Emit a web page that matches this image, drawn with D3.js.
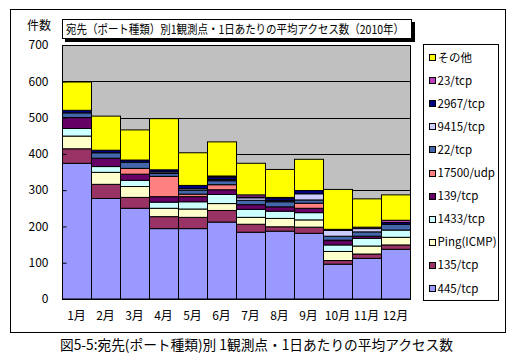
<!DOCTYPE html>
<html><head><meta charset="utf-8">
<script src="https://cdn.jsdelivr.net/npm/d3@7"></script>
<style>
html,body{margin:0;padding:0;background:#fff;}
text{font-family:"Noto Sans CJK JP","Liberation Sans",sans-serif;}
</style></head>
<body><svg id="c" width="516" height="358"></svg>
<script>
const months = ["1月","2月","3月","4月","5月","6月","7月","8月","9月","10月","11月","12月"];
const seriesNames = ["445/tcp","135/tcp","Ping(ICMP)","1433/tcp","139/tcp","17500/udp","22/tcp","9415/tcp","2967/tcp","23/tcp","その他"];
const s445   = [374,277,250,194,194,212,184,187,181,96,112,137];
const s135   = [40,39,30,33,31,32,22,12,17,10,12,12];
const sPing  = [35,33,30,23,23,19,19,23,20,25,22,21];
const s1433  = [21,16,17,17,20,25,22,20,20,18,21,20];
const s139   = [30,23,17,15,14,13,13,12,12,12,6,0];
const s17500 = [0,0,16,56,7,14,0,0,14,1,0,0];
const s22    = [13,15,17,8,11,11,12,14,9,11,12,16];
const s9415  = [0,0,0,4,4,3,7,3,17,16,9,0];
const s2967  = [7,7,6,6,9,7,2,7,9,3,0,5];
const s23    = [0,0,0,0,0,3,6,2,0,0,4,6];
const sOther = [78,94,83,141,90,94,87,77,86,110,78,70];
const yTicks = [0,100,200,300,400,500,600,700];
const title = "宛先（ポート種類）別1観測点・1日あたりの平均アクセス数（2010年）";
const caption = "図5-5:宛先(ポート種類)別 1観測点・1日あたりの平均アクセス数";
const yLabel = "件数";

const seriesVals = [s445,s135,sPing,s1433,s139,s17500,s22,s9415,s2967,s23,sOther];
const colors = ["#9999FF","#993366","#FFFFCC","#CCFFFF","#660066","#FF8080","#4466AA","#CCCCFF","#000080","#C040C0","#FFFF00"];

const rows = months.map((m,i)=>{const r={month:m}; seriesNames.forEach((k,j)=>r[k]=seriesVals[j][i]); return r;});
const stack = d3.stack().keys(seriesNames)(rows);

const svg = d3.select("#c");
const L=62,R=410,T=45,B=299;
const x = d3.scaleBand().domain(months).range([L,R]).padding(0);
const y = d3.scaleLinear().domain([0,700]).range([B,T]);

svg.append("rect").attr("x",10.5).attr("y",9.5).attr("width",495).attr("height",323).attr("fill","#fff").attr("stroke","#000");

svg.append("rect").attr("x",L).attr("y",T).attr("width",R-L).attr("height",B-T).attr("fill","#C0C0C0");
svg.append("g").selectAll("line").data(yTicks.filter(v=>v>0)).join("line")
  .attr("x1",L).attr("x2",R).attr("y1",d=>Math.round(y(d))+0.5).attr("y2",d=>Math.round(y(d))+0.5)
  .attr("stroke","#000").attr("stroke-width",1);

const g = svg.append("g");
stack.forEach((s,j)=>{
  g.append("g").selectAll("rect").data(s.filter(d=>d[1]-d[0]>0)).join("rect")
    .attr("x",d=>x(d.data.month)+0.5).attr("width",x.bandwidth())
    .attr("y",d=>y(d[1])).attr("height",d=>y(d[0])-y(d[1]))
    .attr("fill",colors[j]).attr("stroke","#000").attr("stroke-width",1);
});

svg.append("rect").attr("x",L+0.5).attr("y",T+0.5).attr("width",R-L).attr("height",B-T).attr("fill","none").attr("stroke","#000");

const ya = svg.append("g").attr("transform",`translate(${L+0.5},0)`)
  .call(d3.axisLeft(y).tickValues(yTicks).tickSize(-4).tickPadding(14).tickFormat(d3.format("d")));
ya.select(".domain").remove();
ya.selectAll("text").attr("font-size",12).attr("font-family","Liberation Sans, Arial, sans-serif").attr("fill","#000");
ya.selectAll("line").attr("stroke","#000");

const xa = svg.append("g").attr("transform",`translate(0,${B})`)
  .call(d3.axisBottom(x).tickSize(0).tickPadding(12));
xa.select(".domain").remove();
xa.selectAll("text").attr("font-size",12).attr("fill","#000");

svg.append("text").attr("x",27).attr("y",30).attr("font-size",12).text(yLabel);

svg.append("rect").attr("x",65).attr("y",22).attr("width",350).attr("height",20).attr("fill","#000");
svg.append("rect").attr("x",62.5).attr("y",19.5).attr("width",349).attr("height",19).attr("fill","#fff").attr("stroke","#000");
svg.append("text").attr("x",66).attr("y",34).attr("font-size",12).attr("textLength",338).attr("lengthAdjust","spacingAndGlyphs").text(title);

svg.append("rect").attr("x",423.5).attr("y",44.5).attr("width",75).attr("height",256).attr("fill","#fff").attr("stroke","#000");
const leg = svg.append("g");
const order = seriesNames.map((n,i)=>i).reverse();
order.forEach((j,k)=>{
  const cy = 57 + k*23.1;
  leg.append("rect").attr("x",429.5).attr("y",Math.round(cy-3)+0.5).attr("width",6).attr("height",6).attr("fill",colors[j]).attr("stroke","#000");
  leg.append("text").attr("x",437.5).attr("y",cy+4.5).attr("font-size",11.5)
    .attr("font-family", seriesNames[j]==="その他" ? "Noto Sans CJK JP" : "Liberation Sans, Arial, sans-serif").text(seriesNames[j]);
});

svg.append("text").attr("x",60).attr("y",350).attr("font-size",14).attr("textLength",393).attr("lengthAdjust","spacingAndGlyphs").text(caption);
</script></body></html>
